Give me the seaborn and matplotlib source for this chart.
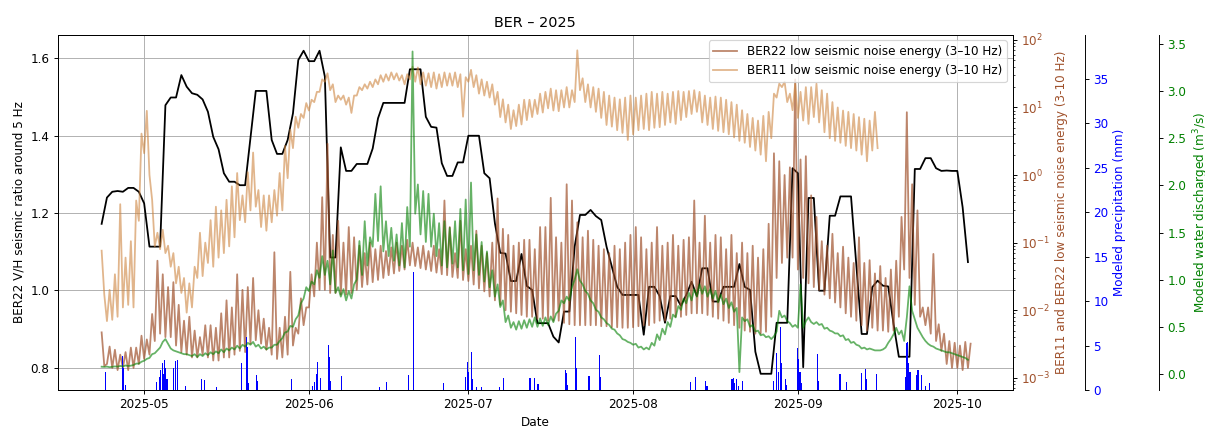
import matplotlib
matplotlib.use("Agg")
import matplotlib.pyplot as plt
import matplotlib.dates as mdates
import pandas as pd
import seaborn as sns

START = pd.Timestamp("2025-04-23")

# daily V/H ratio (BER22), from 2025-04-23
vh_ratio = [
    1.172, 1.240, 1.255, 1.257, 1.255, 1.265, 1.265, 1.255, 1.225, 1.113,
    1.113, 1.113, 1.479, 1.499, 1.499, 1.557, 1.527, 1.510, 1.506, 1.494,
    1.462, 1.397, 1.365, 1.303, 1.281, 1.281, 1.272, 1.272, 1.394, 1.516,
    1.516, 1.516, 1.389, 1.353, 1.353, 1.389, 1.458, 1.596, 1.620, 1.593,
    1.593, 1.620, 1.553, 1.085, 1.085, 1.370, 1.309, 1.309, 1.327, 1.327,
    1.327, 1.367, 1.445, 1.485, 1.485, 1.485, 1.485, 1.485, 1.572, 1.572,
    1.572, 1.449, 1.423, 1.421, 1.329, 1.296, 1.296, 1.331, 1.331, 1.400,
    1.400, 1.400, 1.303, 1.290, 1.173, 1.097, 1.095, 1.024, 1.024, 1.094,
    1.011, 1.001, 0.915, 0.915, 0.915, 0.880, 0.865, 0.945, 0.945, 1.113,
    1.195, 1.195, 1.208, 1.192, 1.182, 1.113, 1.061, 1.009, 0.988, 0.988,
    0.988, 0.988, 0.885, 1.009, 1.009, 0.985, 0.916, 0.985, 0.985, 0.960,
    0.988, 1.022, 0.985, 1.057, 1.057, 0.971, 0.971, 1.009, 1.009, 1.009,
    1.068, 1.009, 1.001, 0.841, 0.784, 0.784, 0.784, 0.916, 0.916, 0.916,
    1.316, 1.303, 0.801, 1.239, 1.239, 0.999, 0.999, 1.193, 1.193, 1.243,
    1.243, 1.243, 1.065, 0.887, 0.887, 1.008, 1.025, 1.012, 1.010, 0.913,
    0.828, 0.828, 0.828, 1.314, 1.314, 1.342, 1.342, 1.316, 1.309, 1.310,
    1.309, 1.309, 1.215, 1.073,
]

# half-daily low seismic noise energy, BER22
ber22_energy = [
    4.7e-3, 1.5e-3, 1.6e-3, 2.9e-3, 1.4e-3, 2.6e-3, 1.3e-3, 2.2e-3, 1.4e-3, 2.4e-3,
    1.3e-3, 2.8e-3, 1.4e-3, 2.8e-3, 1.6e-3, 4.2e-3, 1.9e-3, 3.7e-3, 2.2e-3, 8.8e-3,
    3.5e-3, 0.054, 4.5e-3, 0.034, 4.0e-3, 0.022, 4.0e-3, 0.026, 3.0e-3, 0.012,
    2.4e-3, 7.0e-3, 2.2e-3, 8.0e-3, 2.0e-3, 5.0e-3, 2.0e-3, 4.0e-3, 2.2e-3, 6.0e-3,
    2.0e-3, 6.0e-3, 1.8e-3, 5.5e-3, 1.8e-3, 9.0e-3, 2.0e-3, 0.014, 2.0e-3, 0.011,
    2.2e-3, 0.034, 2.5e-3, 0.020, 2.4e-3, 0.022, 3.2e-3, 0.030, 3.6e-3, 0.010,
    3.2e-3, 7.5e-3, 2.6e-3, 5.5e-3, 2.2e-3, 0.072, 1.9e-3, 5.5e-3, 2.0e-3, 8.0e-3,
    2.2e-3, 0.037, 3.0e-3, 5.5e-3, 4.5e-3, 0.015, 6.0e-3, 0.011, 0.011, 0.034,
    0.016, 0.10, 0.020, 0.47, 0.020, 2.9, 0.018, 0.13, 0.018, 0.21,
    0.017, 0.10, 0.017, 0.17, 0.018, 0.12, 0.020, 0.09, 0.022, 0.07,
    0.024, 0.10, 0.026, 0.08, 0.028, 0.09, 0.030, 0.075, 0.033, 0.085,
    0.035, 0.10, 0.038, 0.09, 0.040, 0.11, 0.046, 0.10, 0.045, 0.085,
    0.042, 0.09, 0.040, 0.075, 0.038, 0.09, 0.036, 0.08, 0.034, 0.42,
    0.033, 0.17, 0.031, 0.07, 0.030, 0.21, 0.028, 0.08, 0.027, 0.09,
    0.024, 0.15, 0.021, 0.09, 0.019, 0.07, 0.016, 0.10, 0.014, 0.45,
    0.012, 0.16, 0.010, 0.13, 0.0095, 0.09, 0.009, 0.10, 0.0085, 0.11,
    0.008, 0.11, 0.008, 0.08, 0.0075, 0.17, 0.0075, 0.17, 0.007, 0.46,
    0.007, 0.12, 0.007, 0.10, 0.0065, 0.73, 0.0062, 0.42, 0.006, 0.20,
    0.006, 0.12, 0.006, 0.15, 0.006, 0.11, 0.006, 0.09, 0.0058, 0.08,
    0.0058, 0.07, 0.0056, 0.09, 0.0056, 0.08, 0.0055, 0.10, 0.0055, 0.13,
    0.0056, 0.17, 0.0058, 0.12, 0.006, 0.08, 0.006, 0.10, 0.0065, 0.17,
    0.007, 0.09, 0.007, 0.10, 0.0075, 0.13, 0.008, 0.09, 0.008, 0.11,
    0.0085, 0.12, 0.009, 0.42, 0.009, 0.10, 0.009, 0.25, 0.0085, 0.10,
    0.008, 0.13, 0.0075, 0.12, 0.007, 0.08, 0.0065, 0.13, 0.006, 0.07,
    0.0055, 0.10, 0.005, 0.07, 0.0048, 0.09, 0.0045, 0.06, 0.0045, 0.08,
    0.0048, 0.19, 0.008, 2.1, 0.03, 1.6, 0.05, 1.0, 0.06, 1.3,
    0.06, 26.0, 0.04, 1.7, 0.03, 1.9, 0.025, 0.5, 0.022, 0.24,
    0.020, 0.105, 0.017, 0.09, 0.015, 0.135, 0.013, 0.07, 0.011, 0.087,
    0.009, 0.06, 0.008, 0.05, 0.007, 0.12, 0.006, 0.05, 0.005, 0.055,
    0.0055, 0.035, 0.005, 0.045, 0.005, 0.03, 0.0048, 0.04, 0.005, 0.054,
    0.008, 0.24, 0.04, 8.5, 0.03, 0.73, 0.012, 0.30, 0.008, 0.011,
    0.006, 0.011, 0.0045, 0.068, 0.0035, 0.0062, 0.0025, 0.0045, 0.0016, 0.0035,
    0.0014, 0.0033, 0.0014, 0.0030, 0.0013, 0.0034, 0.0014, 0.0032,
]

# half-daily low seismic noise energy, BER11
ber11_energy = [
    0.076, 0.017, 0.0069, 0.020, 0.0072, 0.034, 0.008, 0.37, 0.011, 0.06,
    0.012, 0.105, 0.011, 0.42, 0.21, 4.1, 2.1, 8.9, 1.0, 0.43,
    0.088, 0.14, 0.08, 0.155, 0.07, 0.09, 0.044, 0.07, 0.025, 0.044,
    0.018, 0.03, 0.0092, 0.025, 0.011, 0.044, 0.03, 0.14, 0.032, 0.10,
    0.05, 0.215, 0.044, 0.34, 0.06, 0.30, 0.07, 0.43, 0.088, 0.68,
    0.12, 1.07, 0.215, 0.5, 0.2, 1.1, 0.3, 2.15, 0.34, 0.6,
    0.17, 0.5, 0.15, 0.5, 0.2, 0.6, 0.25, 1.07, 0.3, 2.7,
    0.9, 4.7, 2.5, 7.3, 5.0, 8.0, 7.0, 11.6, 9.0, 13.0,
    12.0, 17.0, 17.0, 26.0, 24.0, 32.0, 18.0, 22.0, 12.0, 15.0,
    13.0, 15.0, 11.0, 14.0, 8.3, 15.0, 15.0, 20.0, 18.0, 22.0,
    19.0, 24.0, 20.0, 26.0, 22.0, 30.0, 24.0, 31.0, 25.0, 33.0,
    26.0, 32.0, 25.0, 30.0, 22.0, 31.0, 26.0, 40.0, 24.0, 39.0,
    22.0, 33.0, 21.0, 32.0, 20.0, 33.0, 19.0, 31.0, 20.0, 33.0,
    21.0, 32.0, 21.0, 33.0, 20.0, 31.0, 7.3, 28.0, 24.0, 36.0,
    20.0, 30.0, 16.0, 26.0, 15.0, 24.0, 14.0, 22.0, 11.0, 17.0,
    7.2, 13.2, 6.0, 11.0, 4.8, 9.1, 5.3, 11.0, 5.6, 13.0,
    6.5, 13.0, 7.2, 13.0, 8.0, 16.0, 8.4, 17.0, 9.7, 19.0,
    9.0, 18.0, 8.8, 18.0, 10.0, 20.0, 10.0, 18.0, 12.0, 70.0,
    18.0, 27.0, 12.0, 22.0, 10.0, 20.0, 8.6, 19.0, 7.0, 17.0,
    5.5, 15.0, 5.2, 14.0, 4.6, 13.2, 4.2, 14.0, 3.3, 15.0,
    4.0, 14.0, 4.6, 15.0, 4.8, 16.0, 4.6, 17.0, 5.0, 16.0,
    5.1, 17.0, 5.5, 16.0, 6.0, 17.0, 5.7, 17.5, 6.5, 17.0,
    7.2, 17.5, 8.0, 18.0, 8.6, 17.0, 6.0, 15.0, 5.5, 14.0,
    4.8, 14.5, 4.5, 14.0, 4.3, 13.0, 4.0, 12.0, 3.6, 11.0,
    3.2, 9.1, 3.0, 8.0, 2.6, 7.0, 2.3, 6.4, 2.0, 7.5,
    1.6, 8.6, 3.5, 16.0, 14.0, 22.5, 20.0, 24.0, 12.0, 16.0,
    9.1, 22.5, 7.0, 17.0, 6.4, 20.0, 5.7, 20.0, 7.2, 22.5,
    6.0, 18.0, 4.3, 16.0, 3.5, 12.0, 3.2, 10.0, 3.0, 9.0,
    2.7, 8.6, 2.5, 8.0, 2.3, 7.2, 2.0, 6.8, 1.6, 6.4,
    2.3, 8.6, 2.5,
]

# half-daily modeled water discharge (m3/s)
discharge = [
    0.077, 0.075, 0.078, 0.072, 0.076, 0.080, 0.078, 0.085, 0.080, 0.090,
    0.085, 0.088, 0.095, 0.11, 0.11, 0.13, 0.14, 0.16, 0.17, 0.21,
    0.22, 0.25, 0.28, 0.34, 0.37, 0.32, 0.27, 0.25, 0.24, 0.23,
    0.22, 0.21, 0.21, 0.20, 0.19, 0.21, 0.18, 0.21, 0.19, 0.22,
    0.20, 0.23, 0.21, 0.24, 0.22, 0.26, 0.23, 0.27, 0.25, 0.28,
    0.26, 0.30, 0.27, 0.31, 0.29, 0.33, 0.31, 0.34, 0.29, 0.31,
    0.27, 0.29, 0.26, 0.28, 0.28, 0.31, 0.31, 0.35, 0.38, 0.44,
    0.45, 0.51, 0.50, 0.58, 0.62, 0.75, 0.80, 0.92, 0.88, 0.98,
    0.95, 1.10, 1.02, 1.25, 1.05, 1.20, 0.95, 1.31, 0.86, 0.92,
    0.82, 0.90, 0.78, 0.88, 0.80, 0.95, 1.00, 1.41, 1.05, 1.62,
    1.15, 1.45, 1.35, 1.91, 1.41, 1.99, 1.30, 1.62, 1.25, 1.55,
    1.20, 1.48, 1.15, 1.60, 1.13, 1.77, 1.35, 3.42, 1.70, 2.01,
    1.48, 1.94, 1.40, 1.91, 1.35, 1.70, 1.25, 1.60, 1.15, 1.62,
    1.13, 1.55, 1.17, 1.62, 1.13, 1.75, 1.10, 1.85, 1.06, 2.03,
    1.10, 1.48, 1.05, 1.40, 0.98, 1.30, 0.92, 1.10, 0.82, 0.95,
    0.71, 0.78, 0.55, 0.62, 0.49, 0.55, 0.47, 0.56, 0.48, 0.57,
    0.49, 0.58, 0.50, 0.60, 0.50, 0.59, 0.51, 0.60, 0.52, 0.61,
    0.55, 0.64, 0.67, 0.78, 0.75, 0.82, 0.78, 0.92, 1.00, 1.11,
    0.99, 0.95, 0.88, 0.85, 0.78, 0.75, 0.68, 0.66, 0.60, 0.58,
    0.54, 0.52, 0.48, 0.47, 0.43, 0.41, 0.37, 0.36, 0.34, 0.33,
    0.31, 0.32, 0.28, 0.29, 0.26, 0.28, 0.26, 0.33, 0.30, 0.42,
    0.36, 0.48, 0.42, 0.55, 0.50, 0.63, 0.60, 0.72, 0.68, 0.80,
    0.75, 0.86, 0.78, 0.90, 0.82, 0.95, 0.85, 0.93, 0.82, 0.90,
    0.80, 0.88, 0.76, 0.84, 0.74, 0.80, 0.70, 0.76, 0.66, 0.70,
    0.02, 0.60, 0.56, 0.58, 0.50, 0.52, 0.45, 0.46, 0.41, 0.42,
    0.39, 0.40, 0.37, 0.40, 0.45, 0.67, 0.60, 0.62, 0.56, 0.54,
    0.50, 0.52, 0.49, 0.95, 0.49, 0.56, 0.60, 0.55, 0.53, 0.55,
    0.52, 0.53, 0.48, 0.49, 0.46, 0.45, 0.43, 0.43, 0.40, 0.41,
    0.36, 0.37, 0.33, 0.34, 0.31, 0.30, 0.27, 0.28, 0.26, 0.27,
    0.26, 0.25, 0.25, 0.25, 0.26, 0.28, 0.33, 0.37, 0.42, 0.49,
    0.42, 0.46, 0.35, 0.60, 0.93, 0.67, 0.58, 0.49, 0.44, 0.39,
    0.35, 0.32, 0.30, 0.29, 0.27, 0.26, 0.25, 0.24, 0.23, 0.23,
    0.22, 0.21, 0.20, 0.19, 0.18, 0.17, 0.15,
]

# modeled precipitation events: days after 2025-04-23, mm
precip_day = [
    0.8, 3.9, 4.05, 4.55, 10.4, 10.8, 11.1, 11.5, 11.7, 11.9, 12.1, 12.3,
    13.5, 13.9, 14.3, 15.8, 18.8, 19.4, 21.6, 26.4, 27.3, 27.4, 27.7, 29.1,
    29.4, 35.8, 39.7, 40.1, 40.4, 40.7, 41.1, 42.6, 42.9, 43.1, 45.2, 52.3,
    53.6, 57.7, 58.6, 64.3, 68.5, 68.8, 69.1, 69.6, 69.8, 70.5, 71.5, 74.8,
    75.7, 80.6, 81.5, 82.1, 87.3, 87.5, 87.7, 89.2, 89.3, 91.7, 91.8, 93.7,
    93.8, 110.8, 111.7, 113.6, 113.9, 118.6, 118.9, 119.1, 119.5, 119.9, 120.6, 126.5,
    127.0, 127.3, 127.8, 128.0, 128.6, 128.9, 130.9, 131.0, 131.2, 131.4, 131.6, 134.7,
    134.8, 138.9, 139.1, 140.1, 143.0, 143.8, 143.9, 145.8, 151.3, 151.5, 151.7, 151.8,
    152.1, 152.2, 153.3, 153.6, 154.2, 154.3, 155.0, 155.8,
]
precip_mm = [
    2.0, 3.8, 2.5, 0.6, 0.9, 1.5, 2.2, 3.0, 1.8, 3.4, 2.5, 1.2,
    2.5, 3.3, 3.4, 0.4, 1.2, 1.1, 0.3, 3.0, 6.0, 4.8, 0.8, 1.7,
    1.0, 1.2, 0.5, 0.9, 1.8, 3.2, 1.3, 5.1, 3.7, 1.0, 1.6, 0.3,
    0.9, 1.7, 13.3, 0.8, 1.5, 3.2, 2.0, 4.3, 1.2, 0.3, 0.3, 0.3,
    1.3, 1.3, 1.3, 0.7, 2.25, 1.9, 0.6, 6.0, 2.5, 1.6, 0.8, 3.9,
    1.5, 0.9, 1.5, 1.0, 0.4, 1.2, 1.3, 0.8, 1.2, 0.5, 1.0, 1.0,
    4.2, 2.0, 7.1, 3.0, 1.2, 0.6, 4.7, 4.6, 3.5, 2.0, 0.8, 4.0,
    1.0, 1.8, 1.8, 0.9, 1.9, 2.4, 1.2, 1.8, 1.5, 5.3, 5.4, 3.0,
    2.0, 1.0, 1.7, 2.2, 1.7, 1.3, 0.5, 0.8,
]

BROWN = "sienna"
TAN = "peru"


def half_days(values):
    return pd.date_range(START, periods=len(values), freq="12h")


fig = plt.figure(figsize=(1205 / 86, 426 / 86), dpi=86)
ax = fig.add_axes([0.048, 0.0845, 0.7925, 0.8345])
ax_energy = ax.twinx()
ax_rain = ax.twinx()
ax_flow = ax.twinx()

# V/H ratio on the main axis
sns.lineplot(x=pd.date_range(START, periods=len(vh_ratio), freq="D"), y=vh_ratio,
             color="black", lw=1.5, estimator=None, ax=ax)

# seismic noise energy (log scale)
sns.lineplot(x=half_days(ber22_energy), y=ber22_energy, color=BROWN, alpha=0.7, lw=1.5,
             estimator=None, label="BER22 low seismic noise energy (3–10 Hz)", ax=ax_energy)
sns.lineplot(x=half_days(ber11_energy), y=ber11_energy, color=TAN, alpha=0.6, lw=1.5,
             estimator=None, label="BER11 low seismic noise energy (3–10 Hz)", ax=ax_energy)
ax_energy.set_yscale("log")
ax_energy.set_ylim(6.6e-4, 120)
ax_energy.set_ylabel("BER11 and BER22 low seismic noise energy (3-10 Hz)", color=BROWN)
ax_energy.tick_params(axis="y", labelcolor=BROWN)
ax_energy.legend(loc="upper right")

# precipitation bars
rain_x = START + pd.to_timedelta(precip_day, unit="D")
ax_rain.bar(rain_x, precip_mm, width=0.2, color="blue", linewidth=0)
ax_rain.spines["right"].set_position(("axes", 1.0755))
ax_rain.set_ylim(0, 40)
ax_rain.set_yticks(range(0, 40, 5))
ax_rain.set_ylabel("Modeled precipitation (mm)", color="blue")
ax_rain.tick_params(axis="y", labelcolor="blue")

# discharge
sns.lineplot(x=half_days(discharge), y=discharge, color="green", alpha=0.6, lw=1.5,
             estimator=None, ax=ax_flow)
ax_flow.spines["right"].set_position(("axes", 1.153))
ax_flow.set_ylim(-0.17, 3.6)
ax_flow.set_yticks([0.0, 0.5, 1.0, 1.5, 2.0, 2.5, 3.0, 3.5])
ax_flow.set_ylabel("Modeled water discharged (m$^3$/s)", color="green")
ax_flow.tick_params(axis="y", labelcolor="green")

ax.set_xlim(START - pd.Timedelta(days=8.24), START + pd.Timedelta(days=171.44))
ax.set_ylim(0.742, 1.662)
ax.xaxis.set_major_locator(mdates.MonthLocator())
ax.xaxis.set_major_formatter(mdates.DateFormatter("%Y-%m"))
ax.set_xlabel("Date")
ax.set_ylabel("BER22 V/H seismic ratio around 5 Hz")
ax.set_title("BER – 2025")
ax.grid(True)

fig.savefig("out.png", dpi=86)
